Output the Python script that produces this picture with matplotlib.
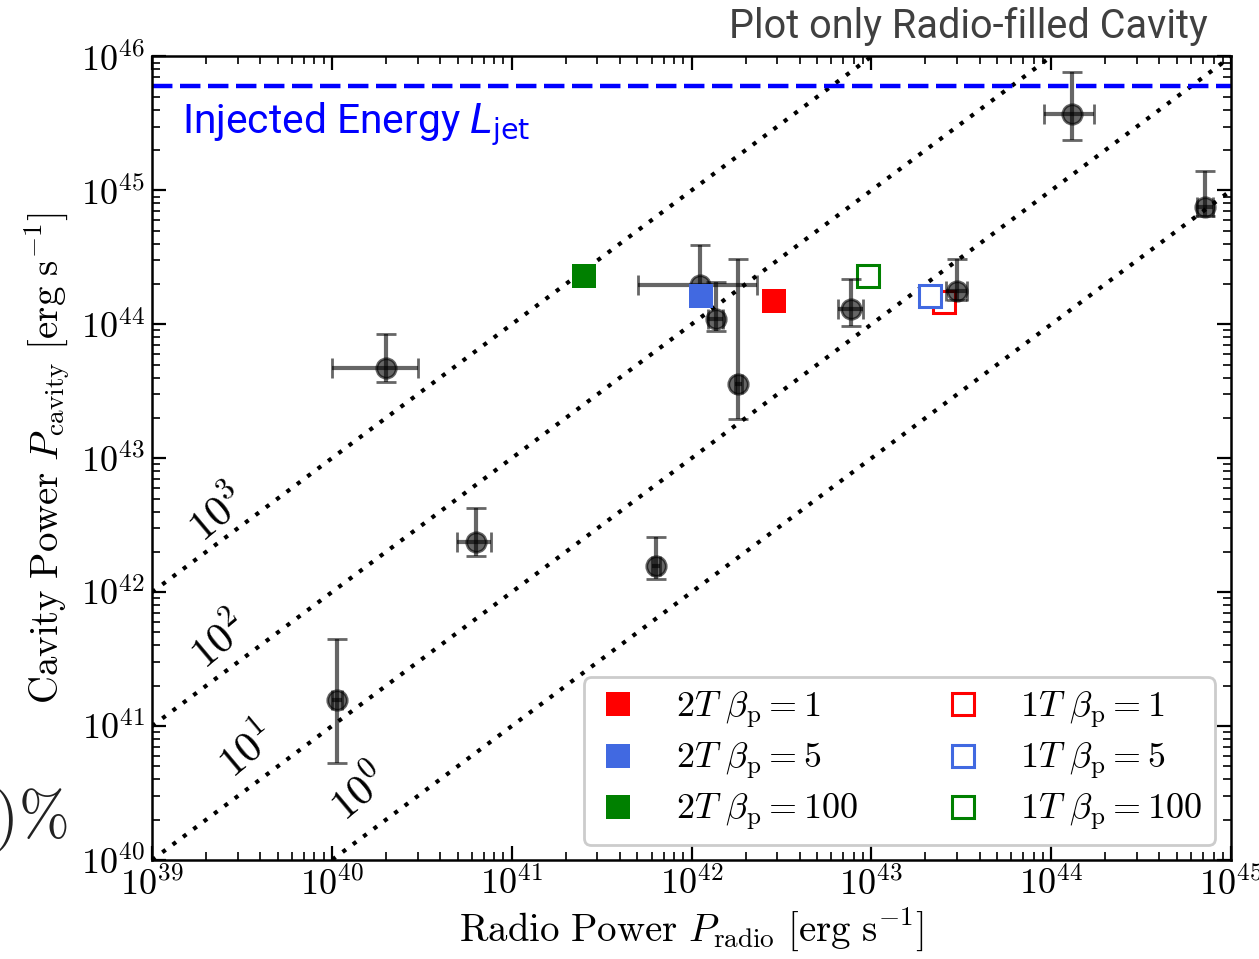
import numpy as np
import matplotlib
matplotlib.use("Agg")
import matplotlib.pyplot as plt
from matplotlib.ticker import FuncFormatter, LogLocator
from matplotlib.lines import Line2D

plt.rcParams['mathtext.fontset'] = 'cm'
plt.rcParams['font.family'] = ['DejaVu Serif']

# ---------------- data ----------------
# observed cavities: radio power, cavity power and error-bar bounds [erg/s]
obs_prad = [2.0e40, 6.32e40, 6.35e41, 1.07e40, 1.11e42, 1.36e42, 1.82e42, 7.66e42, 2.98e43, 1.31e44, 7.18e44]
obs_prad_lo = [1.0e40, 4.97e40, 6.0e41, 1.0e40, 5.02e41, 1.23e42, 1.75e42, 6.52e42, 2.6e43, 9.12e43, 6.5e44]
obs_prad_hi = [3.02e40, 7.67e40, 6.7e41, 1.14e40, 2.30e42, 1.5e42, 1.9e42, 8.98e42, 3.42e43, 1.73e44, 7.9e44]
obs_pcav = [4.74e43, 2.36e42, 1.58e42, 1.56e41, 1.98e44, 1.10e44, 3.58e43, 1.30e44, 1.76e44, 3.69e45, 7.54e44]
obs_pcav_lo = [3.72e43, 1.87e42, 1.26e42, 5.28e40, 1.40e44, 8.85e43, 1.97e43, 9.77e43, 1.53e44, 2.36e45, 6.40e44]
obs_pcav_hi = [8.5e43, 4.24e42, 2.60e42, 4.47e41, 3.89e44, 2.07e44, 3.08e44, 2.19e44, 3.08e44, 7.69e45, 1.39e45]

# simulations
sim_labels_2T = [r'$2T\ \beta_{\rm p} = 1$', r'$2T\ \beta_{\rm p} = 5$', r'$2T\ \beta_{\rm p} = 100$']
sim_labels_1T = [r'$1T\ \beta_{\rm p} = 1$', r'$1T\ \beta_{\rm p} = 5$', r'$1T\ \beta_{\rm p} = 100$']
sim_colors = ['red', 'royalblue', 'green']
sim2T_prad = [2.89e42, 1.13e42, 2.53e41]
sim2T_pcav = [1.50e44, 1.64e44, 2.31e44]
sim1T_prad = [2.55e43, 2.11e43, 9.6e42]
sim1T_pcav = [1.48e44, 1.64e44, 2.31e44]

# ratio lines P_cav / P_radio
ratios = [1e3, 1e2, 1e1, 1e0]
ratio_labels = [r'$10^{3}$', r'$10^{2}$', r'$10^{1}$', r'$10^{0}$']
L_jet = 6e45

# ---------------- figure ----------------
fig = plt.figure(figsize=(12.59, 9.59), dpi=100)
ax = fig.add_axes([0.1207, 0.1032, 0.8571, 0.8379])
ax.set_xscale('log')
ax.set_yscale('log')
ax.set_xlim(1e39, 1e45)
ax.set_ylim(1e40, 1e46)

xx = np.logspace(39, 45, 200)
for r in ratios:
    ax.plot(xx, r * xx, color='k', linestyle=(0, (1, 2.1)), lw=3.0, zorder=2)

label_pos = [(2.35e39, 3.75e42), (2.4e39, 4.3e41), (3.4e39, 6.6e40), (1.45e40, 3.1e40)]
for (lx, ly), lab in zip(label_pos, ratio_labels):
    ax.text(lx, ly, lab, rotation=40, fontsize=31, ha='center', va='center', zorder=3)

ax.axhline(L_jet, color='blue', ls=(0, (4.6, 1.7)), lw=3.2, zorder=2)
ax.text(0.028, 0.916, r'Injected Energy $L_{\rm jet}$', transform=ax.transAxes,
        color='blue', fontsize=29.3, family='Roboto', math_fontfamily='dejavusans',
        ha='left', va='center')

prad = np.array(obs_prad)
pcav = np.array(obs_pcav)
xerr = [prad - np.array(obs_prad_lo), np.array(obs_prad_hi) - prad]
yerr = [pcav - np.array(obs_pcav_lo), np.array(obs_pcav_hi) - pcav]
ax.errorbar(prad, pcav, xerr=xerr, yerr=yerr, fmt='o', color='k', alpha=0.6,
            ms=14, mew=2, elinewidth=3, capsize=7, capthick=2.5, zorder=4)

for c, x, y in zip(sim_colors, sim1T_prad, sim1T_pcav):
    ax.plot(x, y, 's', ms=16.5, mfc='white', mec=c, mew=2.2, zorder=3)
for c, x, y in zip(sim_colors, sim2T_prad, sim2T_pcav):
    ax.plot(x, y, 's', ms=17.5, mfc=c, mec=c, mew=0, zorder=5)

handles = []
labels = []
for c, l in zip(sim_colors, sim_labels_2T):
    handles.append(Line2D([], [], ls='none', marker='s', ms=17.5, mfc=c, mec=c, mew=0))
    labels.append(l)
for c, l in zip(sim_colors, sim_labels_1T):
    handles.append(Line2D([], [], ls='none', marker='s', ms=16.5, mfc='white', mec=c, mew=2.2))
    labels.append(l)
leg = ax.legend(handles, labels, ncol=2, loc='lower right', bbox_to_anchor=(0.985, 0.0187),
                borderaxespad=0, fontsize=26, frameon=True, fancybox=True, framealpha=1,
                edgecolor='#cccccc', borderpad=0.35, labelspacing=0.3,
                handletextpad=1.0, columnspacing=2.3, handlelength=1.2)
leg.get_frame().set_linewidth(2)

fmt = FuncFormatter(lambda v, p: r'$10^{%d}$' % int(round(np.log10(v))))
ax.xaxis.set_major_formatter(fmt)
ax.yaxis.set_major_formatter(fmt)
ax.xaxis.set_major_locator(LogLocator(base=10, numticks=10))
ax.yaxis.set_major_locator(LogLocator(base=10, numticks=10))
ax.xaxis.set_minor_locator(LogLocator(base=10, subs=np.arange(2, 10), numticks=20))
ax.yaxis.set_minor_locator(LogLocator(base=10, subs=np.arange(2, 10), numticks=20))
ax.tick_params(which='both', direction='in', top=True, right=True, labelsize=26)
ax.tick_params(which='major', length=10, width=1.6, pad=5)
ax.tick_params(which='minor', length=5.5, width=1.2)
for s in ax.spines.values():
    s.set_linewidth(1.8)

ax.set_xlabel(r'$\mathrm{Radio\ Power}\ P_{\rm radio}\ [\mathrm{erg\ s^{-1}}]$', fontsize=28, labelpad=2)
ax.set_ylabel(r'$\mathrm{Cavity\ Power}\ P_{\rm cavity}\ [\mathrm{erg\ s^{-1}}]$', fontsize=28, labelpad=6)

fig.text(0.9595, 0.972, 'Plot only Radio-filled Cavity', ha='right', va='center',
         color='#404040', fontsize=28.5, family='Roboto')
fig.text(0.0535, 0.145, r'$0)\%$', ha='right', va='center', fontsize=44, color='#222222')

fig.savefig('out.png', dpi=100)
